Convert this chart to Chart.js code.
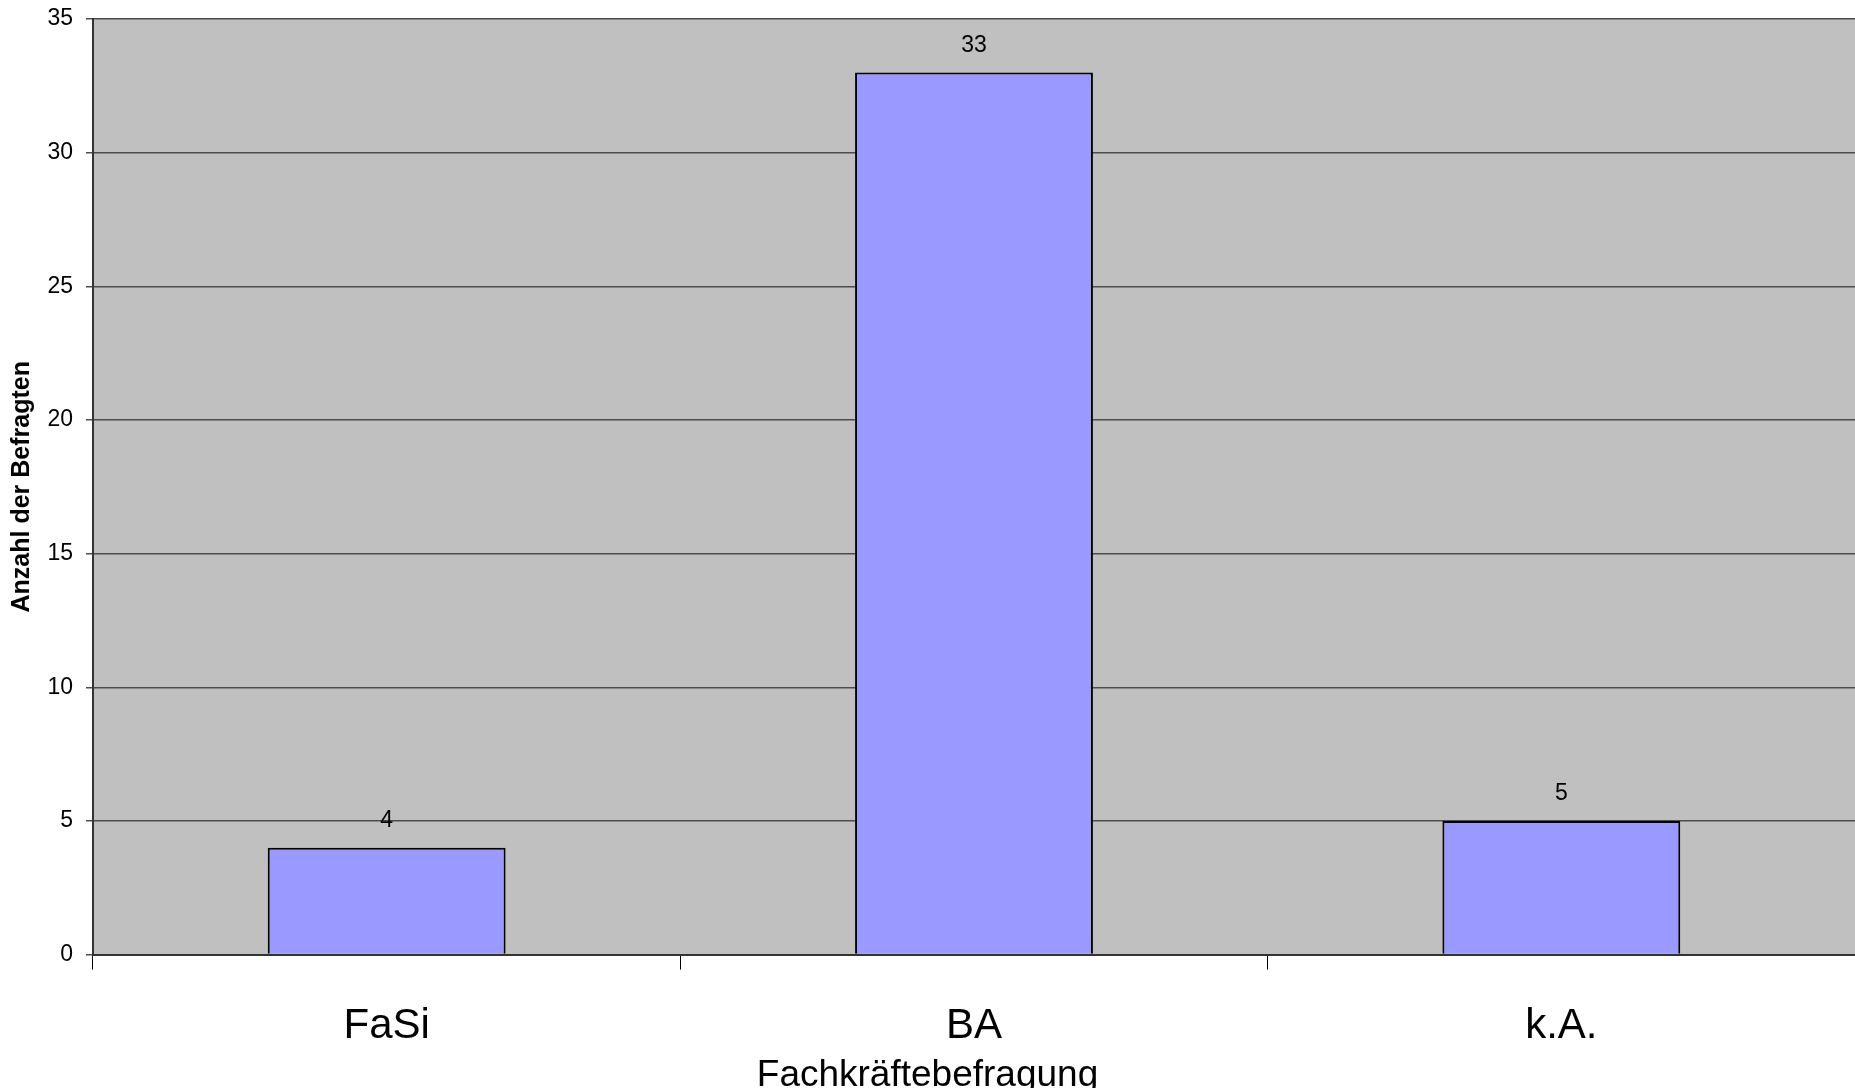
<!DOCTYPE html>
<html>
<head>
<meta charset="utf-8">
<script src="https://cdn.jsdelivr.net/npm/chart.js@4/dist/chart.umd.min.js"></script>
<style>
  html, body { margin: 0; padding: 0; background: #fff; overflow: hidden; }
</style>
</head>
<body>
<canvas id="myChart" width="1855" height="1088"></canvas>
<script>
const categories = ['FaSi', 'BA', 'k.A.'];
const counts = [4, 33, 5];
const yTicks = [0, 5, 10, 15, 20, 25, 30, 35];

const FONT = "'Liberation Sans', Arial, sans-serif";

// grauer Hintergrund der Zeichenfläche
const plotBackground = {
  id: 'plotBackground',
  beforeDraw(chart) {
    const { ctx, chartArea: a } = chart;
    ctx.save();
    ctx.fillStyle = '#c0c0c0';
    ctx.fillRect(a.left, a.top, a.right - a.left, a.bottom - a.top);
    ctx.restore();
  }
};

// Werte über den Balken
const valueLabels = {
  id: 'valueLabels',
  afterDatasetsDraw(chart) {
    const { ctx } = chart;
    const meta = chart.getDatasetMeta(0);
    ctx.save();
    ctx.font = `23px ${FONT}`;
    ctx.fillStyle = '#000';
    ctx.textAlign = 'center';
    ctx.textBaseline = 'middle';
    meta.data.forEach((bar, i) => {
      ctx.fillText(String(counts[i]), bar.x, bar.y - 27);
    });
    ctx.restore();
  }
};

const ctxt = document.getElementById('myChart').getContext('2d');

const myChart = new Chart(ctxt, {
  type: 'bar',
  data: {
    labels: categories,
    datasets: [{
      data: counts,
      backgroundColor: '#9999ff',
      borderColor: '#000000',
      borderWidth: 2,
      barPercentage: 0.405,
      categoryPercentage: 1
    }]
  },
  options: {
    responsive: false,
    animation: false,
    layout: { padding: { top: 19, right: 0, bottom: 0, left: 0 } },
    plugins: {
      legend: { display: false },
      tooltip: { enabled: false },
      // Achsentitel unten, auf die ganze Breite zentriert (wird unten angeschnitten)
      title: {
        display: true,
        position: 'bottom',
        text: 'Fachkräftebefragung',
        color: '#000',
        padding: { top: 0, bottom: -10 },
        font: { family: FONT, size: 37, weight: 'normal' }
      }
    },
    scales: {
      x: {
        offset: true,
        afterFit: (scale) => { scale.height = 99; },
        grid: {
          offset: true,
          drawOnChartArea: false,
          drawTicks: true,
          tickLength: 15,
          color: '#000',
          lineWidth: 1
        },
        border: { color: '#333', width: 2 },
        ticks: {
          color: '#000',
          padding: 32,
          font: { family: FONT, size: 42 }
        }
      },
      y: {
        min: 0,
        max: 35,
        afterBuildTicks: (scale) => { scale.ticks = yTicks.map(v => ({ value: v })); },
        afterFit: (scale) => {
          scale.width = 93;
          scale.paddingTop = 0;
          scale.paddingBottom = 0;
        },
        grid: {
          color: '#4d4d4d',
          lineWidth: 1.5,
          tickLength: 7,
          tickColor: '#4d4d4d'
        },
        border: { color: '#333', width: 2 },
        ticks: {
          color: '#000',
          padding: 13,
          font: { family: FONT, size: 23 }
        },
        title: {
          display: true,
          text: 'Anzahl der Befragten',
          color: '#000',
          padding: { top: 7, bottom: 0 },
          font: { family: FONT, size: 25, weight: 'bold' }
        }
      }
    }
  },
  plugins: [plotBackground, valueLabels]
});
</script>
</body>
</html>
